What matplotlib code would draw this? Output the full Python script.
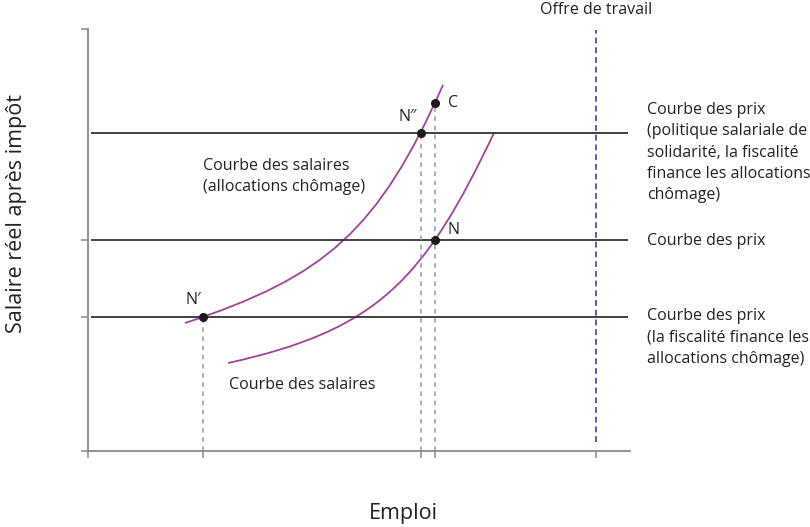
import matplotlib
matplotlib.use("Agg")
import matplotlib.pyplot as plt
from matplotlib.path import Path
from matplotlib.patches import PathPatch

plt.rcParams['font.family'] = ['Open Sans', 'DejaVu Sans']

# price curves (horizontal) and their extent
price_levels = [75.36, 50.0, 31.75]
price_x = [0.55, 99.6]
price_labels = [
    "Courbe des prix\n(politique salariale de\nsolidarité, la fiscalité\nfinance les allocations\nchômage)",
    "Courbe des prix",
    "Courbe des prix\n(la fiscalité finance les\nallocations chômage)",
]
price_label_y = [70.7, 49.8, 26.9]

# wage curves, cubic Bezier control points
wage_ua_x = [17.9, 43.73, 53.5, 65.5]
wage_ua_y = [30.33, 41.28, 52.07, 86.73]
wage_x = [25.83, 53.5, 62.0, 74.9]
wage_y = [20.85, 28.67, 40.52, 75.36]

# labour supply
supply_x = 93.7
supply_y = [2.1, 99.8]

# equilibrium points
pt_names = ["N′", "N″", "C", "N"]
pt_x = [21.2, 61.4, 64.0, 64.0]
pt_y = [31.75, 75.36, 82.5, 50.0]
pt_drop = [True, True, True, False]

x_ticks = [0, 21.2, 61.4, 64.0, 93.7]
y_ticks = [0, 31.75, 50.0, 100]

purple = '#a2419e'
grey = '#8a8a8a'

fig = plt.figure(figsize=(8.1, 5.27), dpi=100)
ax = fig.add_axes([88/810, 76/527, 542/810, 422/527])
ax.set_xlim(0, 100)
ax.set_ylim(0, 100)
for s in ['top', 'right']:
    ax.spines[s].set_visible(False)
for s in ['left', 'bottom']:
    ax.spines[s].set_color(grey)
    ax.spines[s].set_linewidth(1.3)
ax.set_xticks(x_ticks)
ax.set_yticks(y_ticks)
ax.set_xticklabels([])
ax.set_yticklabels([])
ax.tick_params(direction='out', length=5, width=1.1, color=grey)

for lvl in price_levels:
    ax.plot(price_x, [lvl, lvl], color='#333333', lw=1.3, solid_capstyle='butt')

ax.plot([supply_x, supply_x], supply_y, color='#5b5ea6', lw=1.4, dashes=(3, 2))

codes = [Path.MOVETO, Path.CURVE4, Path.CURVE4, Path.CURVE4]
for cx, cy in [(wage_ua_x, wage_ua_y), (wage_x, wage_y)]:
    p = Path(list(zip(cx, cy)), codes)
    ax.add_patch(PathPatch(p, fill=False, edgecolor=purple, lw=1.3))

for x, y, d in zip(pt_x, pt_y, pt_drop):
    if d:
        ax.plot([x, x], [0, y], color='#999999', lw=1.1, dashes=(3, 3))
ax.plot(pt_x, pt_y, 'o', color='#1a1a1a', ms=5.5, zorder=5)

fs = 11.5
ax.text(19.4, 35.8, pt_names[0], fontsize=fs, ha='center', va='center', color='#222222')
ax.text(59.0, 79.1, pt_names[1], fontsize=fs, ha='center', va='center', color='#222222')
ax.text(67.3, 82.5, pt_names[2], fontsize=fs, ha='center', va='center', color='#222222')
ax.text(67.5, 52.4, pt_names[3], fontsize=fs, ha='center', va='center', color='#222222')

ax.text(21.2, 65.0, "Courbe des salaires\n(allocations chômage)", fontsize=fs,
        ha='left', va='center', linespacing=1.45, color='#222222')
ax.text(26.0, 15.6, "Courbe des salaires", fontsize=fs, ha='left', va='center', color='#222222')

for lab, ly in zip(price_labels, price_label_y):
    ax.text(103.1, ly, lab, fontsize=fs, ha='left', va='center', linespacing=1.45,
            color='#222222', clip_on=False)

ax.text(supply_x, 104.5, "Offre de travail", fontsize=fs, ha='center', va='center',
        color='#222222', clip_on=False)

fig.text(403/810, 1 - 514/527, "Emploi", fontsize=15.5, ha='center', va='center', color='#222222')
fig.text(17/810, 1 - 214/527, "Salaire réel après impôt", fontsize=15.5, rotation=90,
         ha='center', va='center', color='#222222')

fig.savefig("out.png", dpi=100)
